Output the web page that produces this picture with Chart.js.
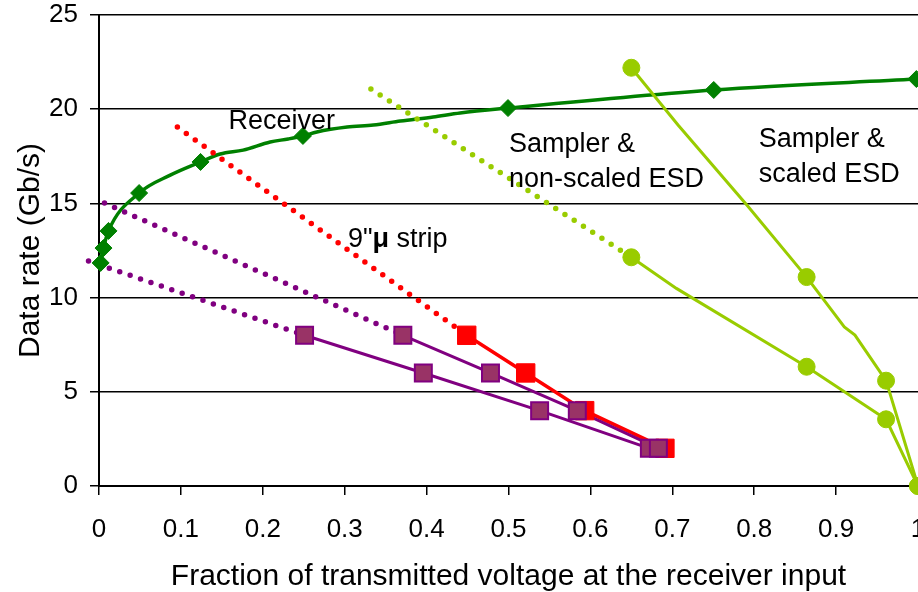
<!DOCTYPE html>
<html>
<head>
<meta charset="utf-8">
<script src="https://cdn.jsdelivr.net/npm/chart.js@4.4.0/dist/chart.umd.min.js"></script>
<style>
html,body{margin:0;padding:0;background:#fff;}
canvas{display:block;}
</style>
</head>
<body>
<canvas id="c" width="918" height="592"></canvas>
<script>
// ---- tick labels ----
const xTickValues = [0, 0.1, 0.2, 0.3, 0.4, 0.5, 0.6, 0.7, 0.8, 0.9, 1];
const xTickLabels = ['0', '0.1', '0.2', '0.3', '0.4', '0.5', '0.6', '0.7', '0.8', '0.9', '1'];
const yTickValues = [0, 5, 10, 15, 20, 25];
const yTickLabels = ['0', '5', '10', '15', '20', '25'];

// ---- Receiver (green) ----
const receiverLineX = [0.002, 0.0055, 0.0116, 0.049, 0.087, 0.124, 0.148, 0.176, 0.209, 0.231, 0.249, 0.266, 0.303, 0.335, 0.368, 0.408, 0.441, 0.4994, 0.7506, 0.998];
const receiverLineY = [11.84, 12.63, 13.54, 15.55, 16.5, 17.2, 17.62, 17.83, 18.26, 18.42, 18.58, 18.79, 19.05, 19.16, 19.37, 19.59, 19.8, 20.06, 21.02, 21.6];
const receiverMarkX = [0.002, 0.0055, 0.0116, 0.049, 0.124, 0.249, 0.4994, 0.7506, 0.998];
const receiverMarkY = [11.84, 12.63, 13.54, 15.55, 17.2, 18.58, 20.06, 21.02, 21.6];

// ---- 9" microstrip (red) ----
const stripX = [0.449, 0.521, 0.593, 0.691];
const stripY = [8, 6, 4, 2];
const stripDotX = [0.0957, 0.449];
const stripDotY = [19.05, 8];

// ---- purple series A (upper) ----
const purpleAX = [0.371, 0.478, 0.584, 0.683];
const purpleAY = [8, 6, 4, 2];
const purpleADotX = [0.0067, 0.371];
const purpleADotY = [15.02, 8];

// ---- purple series B (lower) ----
const purpleBX = [0.251, 0.396, 0.538, 0.672];
const purpleBY = [8, 6, 4, 2];
const purpleBDotX = [-0.0128, 0.251];
const purpleBDotY = [11.94, 8];

// ---- Sampler & non-scaled ESD (yellow-green, lower) ----
const nonScaledLineX = [0.650, 0.705, 0.864, 0.961, 1.0];
const nonScaledLineY = [12.14, 10.49, 6.33, 3.54, 0];
const nonScaledMarkX = [0.650, 0.864, 0.961, 1.0];
const nonScaledMarkY = [12.14, 6.33, 3.54, 0];
const nonScaledDotX = [0.332, 0.650];
const nonScaledDotY = [21.07, 12.14];

// ---- Sampler & scaled ESD (yellow-green, upper) ----
const scaledLineX = [0.650, 0.707, 0.791, 0.864, 0.910, 0.923, 0.961, 1.0];
const scaledLineY = [22.2, 19.16, 14.92, 11.09, 8.44, 8.01, 5.59, 0];
const scaledMarkX = [0.650, 0.864, 0.961, 1.0];
const scaledMarkY = [22.2, 11.09, 5.59, 0];

// ---- in-plot text labels ----
const noteTexts = ['Receiver', 'Sampler &', 'non-scaled ESD', 'Sampler &', 'scaled ESD'];
const noteX = [0.158, 0.5006, 0.5006, 0.8055, 0.8055];
const noteY = [18.95, 17.73, 15.87, 17.99, 16.14];
const stripNoteParts = ['9"', '\u03bc', ' strip'];
const stripNoteX = 0.304;
const stripNoteY = 12.69;

const pts = (xs, ys) => xs.map((x, i) => ({ x: x, y: ys[i] }));

const GREEN = '#008000', RED = '#FF0000', PURPLE = '#800080', MAUVE = '#993366', LIME = '#99CC00';
const FONT = '"Liberation Sans", Arial, Helvetica, sans-serif';

function lineDs(data, color, width, order, extra) {
  return Object.assign({ data: data, showLine: true, borderColor: color, backgroundColor: color,
    borderWidth: width, pointRadius: 0, pointHoverRadius: 0, fill: false, clip: false, order: order }, extra || {});
}
function dotDs(data, color, order) {
  return lineDs(data, color, 5.5, order, { borderDash: [0, 11], borderCapStyle: 'round' });
}
function markDs(data, style, radius, bg, border, bw, order) {
  return { data: data, showLine: false, pointStyle: style, pointRadius: radius, pointHoverRadius: radius,
    backgroundColor: bg, borderColor: border, pointBorderWidth: bw, borderWidth: bw, clip: false, order: order };
}

const notesPlugin = {
  id: 'notes',
  afterDatasetsDraw(chart) {
    const ctx = chart.ctx, xs = chart.scales.x, ys = chart.scales.y;
    ctx.save();
    ctx.fillStyle = '#000';
    ctx.textBaseline = 'alphabetic';
    ctx.textAlign = 'left';
    ctx.font = '27px ' + FONT;
    noteTexts.forEach((t, i) => {
      ctx.fillText(t, xs.getPixelForValue(noteX[i]), ys.getPixelForValue(noteY[i]));
    });
    let px = xs.getPixelForValue(stripNoteX);
    const py = ys.getPixelForValue(stripNoteY);
    stripNoteParts.forEach((t, i) => {
      ctx.font = (i === 1 ? 'bold ' : '') + '27px ' + FONT;
      ctx.fillText(t, px, py);
      px += ctx.measureText(t).width;
    });
    ctx.restore();
  }
};

new Chart(document.getElementById('c'), {
  type: 'scatter',
  data: {
    datasets: [
      markDs(pts(scaledMarkX, scaledMarkY), 'circle', 8.5, LIME, LIME, 1, 1),
      markDs(pts(nonScaledMarkX, nonScaledMarkY), 'circle', 8.5, LIME, LIME, 1, 1),
      markDs(pts(purpleAX, purpleAY), 'rect', 12, MAUVE, PURPLE, 2, 2),
      markDs(pts(purpleBX, purpleBY), 'rect', 12, MAUVE, PURPLE, 2, 2),
      markDs(pts(stripX, stripY), 'rect', 13, RED, RED, 1, 3),
      markDs(pts(receiverMarkX, receiverMarkY), 'rectRot', 8.5, GREEN, GREEN, 1, 4),
      lineDs(pts(scaledLineX, scaledLineY), LIME, 3, 5),
      lineDs(pts(nonScaledLineX, nonScaledLineY), LIME, 3, 5),
      dotDs(pts(nonScaledDotX, nonScaledDotY), LIME, 6),
      lineDs(pts(purpleAX, purpleAY), PURPLE, 3, 7),
      lineDs(pts(purpleBX, purpleBY), PURPLE, 3, 7),
      dotDs(pts(purpleADotX, purpleADotY), PURPLE, 8),
      dotDs(pts(purpleBDotX, purpleBDotY), PURPLE, 8),
      lineDs(pts(stripX, stripY), RED, 3.5, 9),
      dotDs(pts(stripDotX, stripDotY), RED, 10),
      lineDs(pts(receiverLineX, receiverLineY), GREEN, 3.5, 11, { cubicInterpolationMode: 'monotone' })
    ]
  },
  options: {
    responsive: false,
    devicePixelRatio: 1,
    animation: false,
    events: [],
    layout: { autoPadding: false, padding: { left: 16, top: 15, right: 0, bottom: 0 } },
    plugins: { legend: { display: false }, tooltip: { enabled: false } },
    scales: {
      x: {
        type: 'linear', min: 0, max: 1, position: 'bottom',
        afterBuildTicks: s => { s.ticks = xTickValues.map(v => ({ value: v })); },
        afterFit: s => { s.height = 106; s.paddingRight = 0; s.paddingLeft = 0; },
        ticks: { autoSkip: false, maxRotation: 0, color: '#000', padding: 19,
          font: { family: FONT, size: 26 },
          callback: (v, i) => xTickLabels[i] },
        grid: { drawOnChartArea: false, color: '#000', lineWidth: 1.5, tickLength: 9 },
        border: { display: true, color: '#000', width: 2 },
        title: { display: true, text: 'Fraction of transmitted voltage at the receiver input', color: '#000',
          font: { family: FONT, size: 30, lineHeight: 1 }, padding: 0 }
      },
      y: {
        type: 'linear', min: 0, max: 25, position: 'left',
        afterBuildTicks: s => { s.ticks = yTickValues.map(v => ({ value: v })); },
        afterFit: s => { s.width = 83; s.paddingTop = 0; s.paddingBottom = 0; },
        ticks: { autoSkip: false, color: '#000', padding: 12,
          font: { family: FONT, size: 26 },
          callback: (v, i) => yTickLabels[i] },
        grid: { drawOnChartArea: true, color: '#000', lineWidth: 1.5, tickLength: 9 },
        border: { display: true, color: '#000', width: 2 },
        title: { display: true, text: 'Data rate (Gb/s)', color: '#000',
          font: { family: FONT, size: 30, lineHeight: 1 }, padding: 0 }
      }
    }
  },
  plugins: [notesPlugin]
});
</script>
</body>
</html>
